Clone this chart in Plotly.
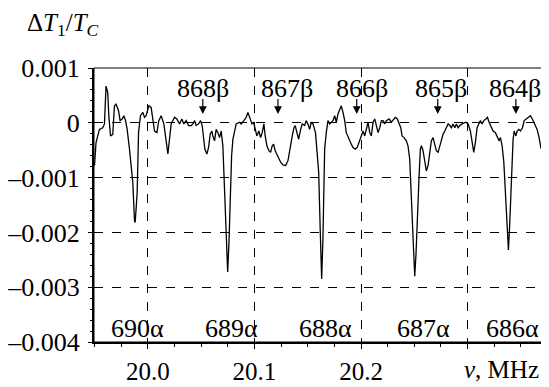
import plotly.graph_objects as go

# --- data ---
freq_mhz = [
    19.9500, 19.9514, 19.9546, 19.9577, 19.9593, 19.9608, 19.9624, 19.9634, 19.9650, 19.9671,
    19.9687, 19.9702, 19.9725, 19.9740, 19.9759, 19.9775, 19.9791, 19.9806, 19.9828, 19.9843,
    19.9859, 19.9875, 19.9881, 19.9890, 19.9900, 19.9913, 19.9931, 19.9953, 19.9969, 19.9984,
    20.0009, 20.0031, 20.0047, 20.0063, 20.0085, 20.0103, 20.0125, 20.0150, 20.0172, 20.0188,
    20.0219, 20.0235, 20.0251, 20.0272, 20.0298, 20.0319, 20.0338, 20.0360, 20.0382, 20.0407,
    20.0423, 20.0439, 20.0454, 20.0476, 20.0495, 20.0510, 20.0523, 20.0535, 20.0554, 20.0570,
    20.0585, 20.0601, 20.0610, 20.0626, 20.0641, 20.0657, 20.0673, 20.0688, 20.0704, 20.0720,
    20.0735, 20.0749, 20.0761, 20.0773, 20.0786, 20.0798, 20.0814, 20.0829, 20.0861,
    20.0876, 20.0901, 20.0923, 20.0939, 20.0961, 20.0977, 20.0992, 20.1008, 20.1023, 20.1042,
    20.1058, 20.1073, 20.1089, 20.1101, 20.1117, 20.1136, 20.1152, 20.1167, 20.1180, 20.1195,
    20.1221, 20.1246, 20.1268, 20.1293, 20.1315, 20.1336, 20.1355, 20.1371, 20.1383, 20.1399,
    20.1415, 20.1434, 20.1449, 20.1471, 20.1486, 20.1502, 20.1518, 20.1533, 20.1549, 20.1573,
    20.1587, 20.1603, 20.1618, 20.1631, 20.1643, 20.1653, 20.1659, 20.1674, 20.1690,
    20.1706, 20.1721, 20.1737, 20.1753, 20.1768, 20.1784, 20.1800, 20.1815, 20.1831, 20.1847,
    20.1862, 20.1885, 20.1909, 20.1925, 20.1947, 20.1965, 20.1988, 20.2003, 20.2019, 20.2035,
    20.2050, 20.2066, 20.2082, 20.2097, 20.2113, 20.2129, 20.2144, 20.2160, 20.2176, 20.2191,
    20.2207, 20.2222, 20.2238, 20.2263, 20.2285,
    20.2300, 20.2322, 20.2341, 20.2357, 20.2373, 20.2385, 20.2404, 20.2425, 20.2441, 20.2457,
    20.2467, 20.2482, 20.2504, 20.2516, 20.2529, 20.2545, 20.2557, 20.2567, 20.2582, 20.2598,
    20.2613, 20.2629, 20.2645, 20.2660, 20.2676, 20.2692, 20.2707, 20.2723, 20.2739, 20.2754,
    20.2770, 20.2786, 20.2801, 20.2817, 20.2833, 20.2848, 20.2864, 20.2880, 20.2895, 20.2911,
    20.2927, 20.2948,
    20.2983, 20.3005, 20.3026, 20.3045, 20.3058, 20.3073, 20.3089, 20.3105, 20.3120, 20.3136,
    20.3152, 20.3171, 20.3186, 20.3202, 20.3224, 20.3239, 20.3261, 20.3280, 20.3296, 20.3308,
    20.3324, 20.3340, 20.3355, 20.3371, 20.3383, 20.3394, 20.3408, 20.3421, 20.3427, 20.3437,
    20.3453, 20.3465, 20.3481, 20.3496, 20.3515, 20.3531, 20.3552, 20.3575, 20.3590, 20.3608,
    20.3631, 20.3652, 20.3671, 20.3687, 20.3700, 20.3709, 20.3725, 20.3740,
]
dT_over_Tc = [
    -0.00078, -0.00036, -0.00012, -0.00009, -0.00002, 0.00067, 0.00055, 0.00013, -0.00024, -0.00021,
    0.00031, 0.00034, 0.00022, 0.00004, 0.00007, 0.00013, 0.00004, -0.00012, -0.00048, -0.00078,
    -0.00109, -0.00179, -0.00182, -0.00157, -0.00127, -0.00018, 0.00013, 0.00019, 0.00010, 0.00013,
    0.00031, 0.00028, 0.00007, -0.00015, -0.00018, 0.00004, 0.00013, -0.00002, -0.00033, -0.00057,
    -0.00002, 0.00004, 0.00010, 0.00007, -0.00002, 0.00007, -0.00002, 0.00004, -0.00005, -0.00005,
    -0.00002, 0.00004, -0.00005, -0.00002, 0.00004, -0.00005, -0.00027, -0.00048, -0.00057, -0.00045,
    -0.00021, -0.00015, -0.00024, -0.00033, -0.00012, -0.00018, -0.00027, -0.00015, -0.00042, -0.00120,
    -0.00200, -0.00272, -0.00220, -0.00120, -0.00060, -0.00030, -0.00018, -0.00002, 0.00001,
    -0.00002, 0.00004, 0.00010, 0.00019, 0.00007, -0.00002, 0.00001, -0.00015, -0.00024, -0.00015,
    -0.00027, -0.00018, -0.00002, -0.00024, -0.00042, -0.00051, -0.00054, -0.00042, -0.00039, -0.00051,
    -0.00063, -0.00072, -0.00077, -0.00078, -0.00069, -0.00042, -0.00024, -0.00009, -0.00005, -0.00018,
    -0.00030, -0.00012, -0.00002, -0.00005, 0.00004, -0.00002, -0.00012, 0.00001, -0.00002, -0.00018,
    -0.00048, -0.00090, -0.00200, -0.00285, -0.00210, -0.00120, -0.00048, -0.00018, 0.00004,
    -0.00002, 0.00001, 0.00004, 0.00013, 0.00001, 0.00016, 0.00025, 0.00031, 0.00019, 0.00004,
    -0.00018, -0.00030, -0.00039, -0.00045, -0.00048, -0.00045, -0.00033, -0.00024, -0.00015, -0.00024,
    -0.00009, 0.00001, -0.00018, -0.00024, 0.00001, 0.00007, -0.00005, -0.00018, -0.00009, 0.00004,
    0.00004, -0.00002, 0.00004, 0.00007, 0.00001,
    0.00004, 0.00010, 0.00007, -0.00002, -0.00009, -0.00024, -0.00027, -0.00033, -0.00042, -0.00066,
    -0.00109, -0.00200, -0.00280, -0.00240, -0.00160, -0.00097, -0.00048, -0.00042, -0.00051, -0.00072,
    -0.00088, -0.00078, -0.00048, -0.00033, -0.00027, -0.00042, -0.00051, -0.00054, -0.00042, -0.00033,
    -0.00021, -0.00015, -0.00009, -0.00002, -0.00005, -0.00009, -0.00002, -0.00009, -0.00002, -0.00009,
    -0.00005, -0.00002,
    0.00001, -0.00002, -0.00015, -0.00036, -0.00054, -0.00036, -0.00009, -0.00002, 0.00004, -0.00002,
    0.00004, 0.00007, 0.00010, 0.00001, -0.00009, -0.00015, -0.00018, -0.00027, -0.00033, -0.00027,
    -0.00042, -0.00072, -0.00127, -0.00190, -0.00232, -0.00190, -0.00120, -0.00078, -0.00030, -0.00015,
    -0.00024, -0.00015, -0.00012, -0.00015, -0.00009, 0.00004, 0.00007, 0.00010, 0.00013, 0.00007,
    -0.00002, -0.00012, -0.00027, -0.00045, -0.00051, -0.00036, -0.00002, 0.00007,
]

beta_labels = ["868β", "867β", "866β", "865β", "864β"]
beta_freq = [20.0516, 20.1221, 20.1960, 20.2720, 20.3453]
alpha_labels = ["690α", "689α", "688α", "687α", "686α"]
alpha_freq = [19.9880, 20.0749, 20.1631, 20.2504, 20.3383]

y_tickvals = [0.001, 0.0, -0.001, -0.002, -0.003, -0.004]
y_ticktext = ["0.001", "0", "–0.001", "–0.002", "–0.003", "–0.004"]
x_tickvals = [20.0, 20.1, 20.2, 20.3]
x_ticktext = ["20.0", "20.1", "20.2", ""]

FONT = "Liberation Serif, Times New Roman, serif"
SZ_YTICK = 26
SZ_XTICK = 25
SZ_LAB = 26

fig = go.Figure()
fig.add_trace(go.Scatter(x=freq_mhz, y=dT_over_Tc, mode="lines",
                         line=dict(color="black", width=1.3), hoverinfo="skip"))

# label text positions (offsets relative to the arrows)
beta_text_dx = [0.0005, 0.0084, 0.0045, 0.0026, -0.0012]
alpha_text_x = [19.9906, 20.0789, 20.1671, 20.2587, 20.3420]
annotations = []
for lab, xf, dx in zip(beta_labels, beta_freq, beta_text_dx):
    annotations.append(dict(x=xf + dx, y=0.00062, text=lab, showarrow=False,
                            xanchor="center", yanchor="middle",
                            font=dict(family=FONT, size=SZ_LAB, color="black")))
    annotations.append(dict(x=xf, y=0.00016, ax=xf, ay=0.00046, axref="x", ayref="y",
                            text="", showarrow=True, arrowhead=2, arrowsize=1.3,
                            arrowwidth=1.2, arrowcolor="black"))
for lab, xt in zip(alpha_labels, alpha_text_x):
    annotations.append(dict(x=xt, y=-0.00375, text=lab, showarrow=False,
                            xanchor="center", yanchor="middle",
                            font=dict(family=FONT, size=SZ_LAB, color="black")))
annotations.append(dict(xref="paper", yref="paper", x=-0.068, y=1.16,
                        text="Δ<i>T</i><sub>1</sub>/<i>T</i><sub><i>C</i></sub>",
                        showarrow=False, xanchor="center", yanchor="middle",
                        font=dict(family=FONT, size=25, color="black")))
annotations.append(dict(xref="paper", yref="paper", x=0.9, y=-0.1,
                        text="<i>ν</i>, MHz", showarrow=False,
                        xanchor="center", yanchor="middle",
                        font=dict(family=FONT, size=25, color="black")))

# the page body has an 8px default margin, so the figure is sized to fit beside it
fig.update_layout(
    width=541, height=379,
    margin=dict(l=86, r=2, t=60, b=45),
    paper_bgcolor="white", plot_bgcolor="white",
    showlegend=False,
    annotations=annotations,
    font=dict(family=FONT, size=SZ_YTICK, color="black"),
    shapes=[dict(type="rect", xref="paper", yref="paper", x0=0, x1=1, y0=0, y1=1,
                 line=dict(color="black", width=1))],
)
fig.update_xaxes(range=[19.9495, 20.3745], tickvals=x_tickvals, ticktext=x_ticktext,
                 showgrid=True, gridcolor="black", griddash="dash", gridwidth=1,
                 zeroline=False, showline=True, linecolor="black", linewidth=2,
                 ticks="outside", ticklen=5, tickcolor="black", automargin=False,
                 minor=dict(dtick=0.025, tick0=20.0, ticks="outside", ticklen=3,
                            tickcolor="black", showgrid=False),
                 tickfont=dict(family=FONT, size=SZ_XTICK), ticklabelstandoff=1)
fig.update_yaxes(range=[-0.004, 0.001], tickvals=y_tickvals, ticktext=y_ticktext,
                 showgrid=True, gridcolor="black", griddash="dash", gridwidth=1,
                 zeroline=False, showline=True, linecolor="black", linewidth=2,
                 ticks="outside", ticklen=4, tickcolor="black", automargin=False,
                 minor=dict(dtick=0.0002, tick0=0, ticks="outside", ticklen=2,
                            tickcolor="black", showgrid=False),
                 tickfont=dict(family=FONT, size=SZ_YTICK), ticklabelstandoff=3)

fig.write_html("out.html")
